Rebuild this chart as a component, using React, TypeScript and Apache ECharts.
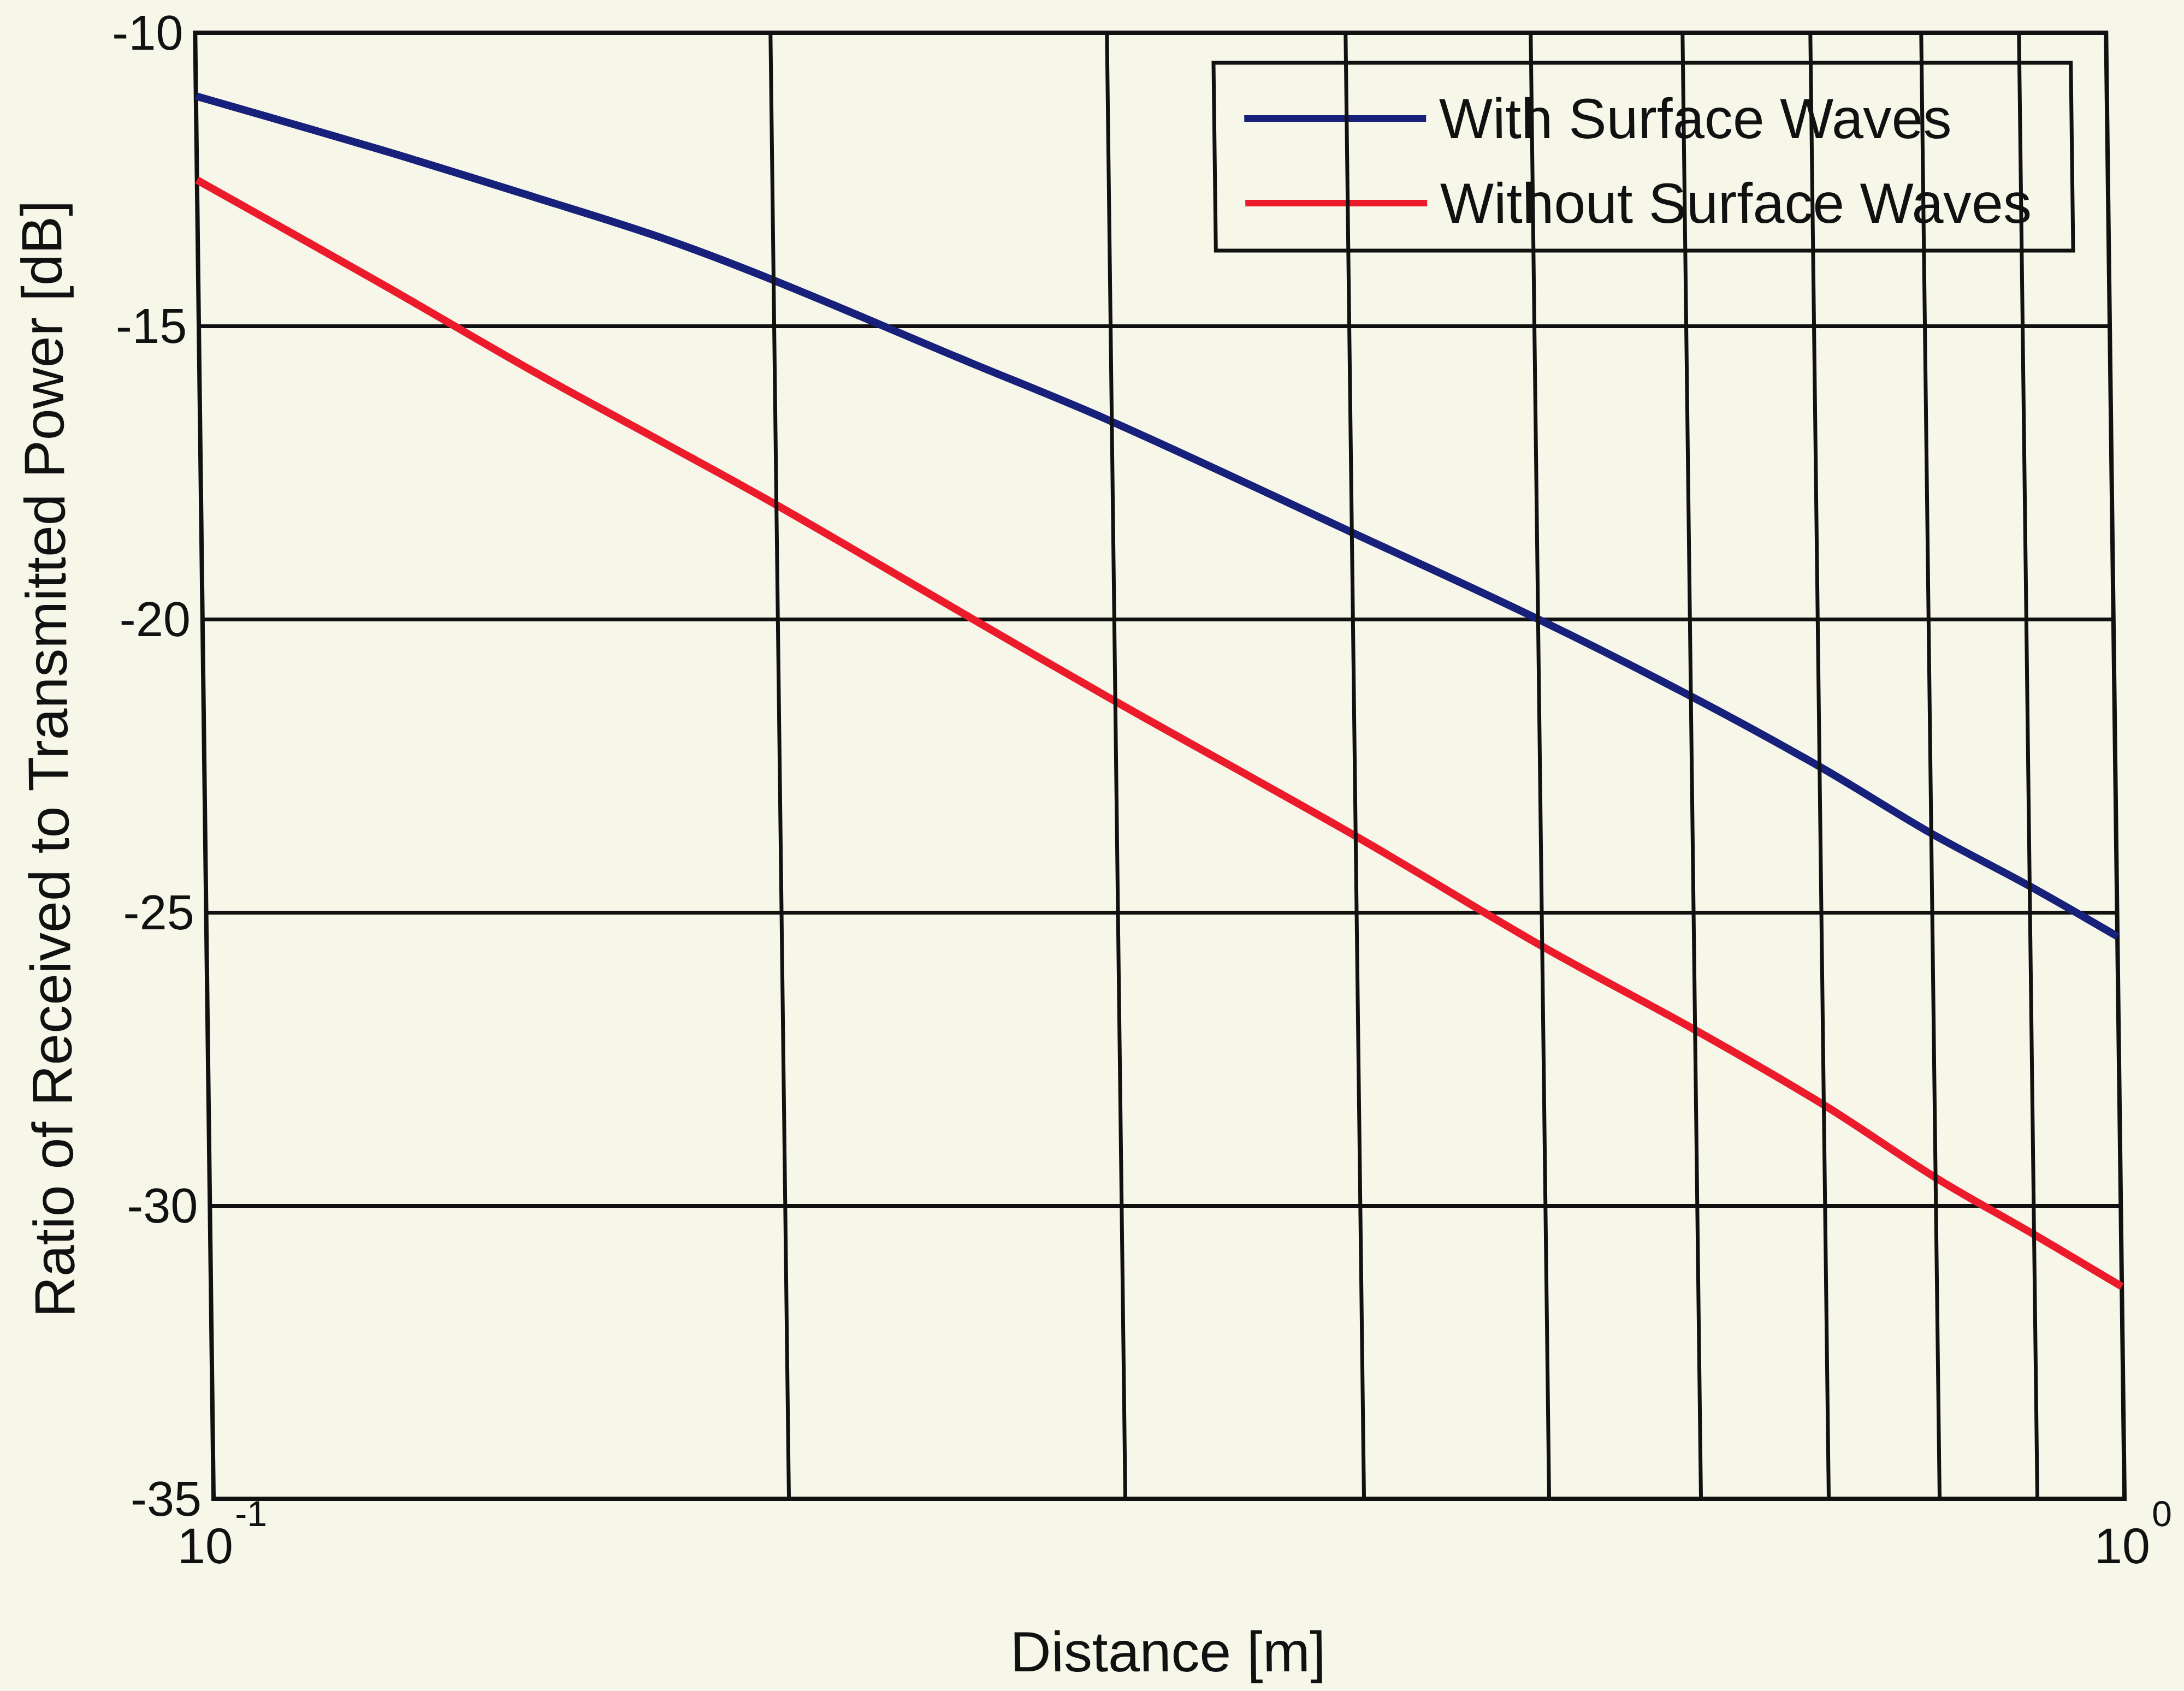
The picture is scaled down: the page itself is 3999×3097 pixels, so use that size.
import React, { useEffect, useRef } from 'react';
import * as echarts from 'echarts';

// Distance samples [m] and received/transmitted power ratio [dB]
const distances = [0.1, 0.125, 0.15, 0.175, 0.2, 0.25, 0.3, 0.4, 0.5, 0.6, 0.7, 0.8, 0.9, 1.0];
const withSurfaceWaves = [-11.08, -12.0, -12.8, -13.5, -14.22, -15.55, -16.63, -18.52, -20.0, -21.31, -22.51, -23.65, -24.55, -25.41];
const withoutSurfaceWaves = [-12.51, -14.3, -15.8, -17.0, -18.05, -19.9, -21.4, -23.7, -25.58, -27.0, -28.28, -29.52, -30.49, -31.38];

// Decade sub-divisions drawn as vertical grid lines
const minorGridDistances = [0.2, 0.3, 0.4, 0.5, 0.6, 0.7, 0.8, 0.9];

const seriesNames = ['With Surface Waves', 'Without Surface Waves'];
const xTitle = 'Distance [m]';
const yTitle = 'Ratio of Received to Transmitted Power [dB]';
const yMin = -35;
const yMax = -10;
const yStep = 5;

const PAGE = '#f6f6e9';
const INK = '#111111';
const BLUE = '#17207a';
const RED = '#ec1b2c';
const FONT = '"Liberation Sans", Arial, Helvetica, sans-serif';

export default function App() {
  const ref = useRef<HTMLDivElement>(null);

  useEffect(() => {
    if (!ref.current) return;
    const chart = echarts.init(ref.current, null, { renderer: 'svg' });

    const toPairs = (ys: number[]) => distances.map((d, i) => [d, ys[i]]);

    const option = {
      animation: false,
      backgroundColor: 'transparent',
      textStyle: { fontFamily: FONT, color: INK },
      grid: {
        left: 376,
        right: 124,
        top: 60,
        bottom: 352,
        show: true,
        borderColor: INK,
        borderWidth: 8,
        backgroundColor: 'transparent',
        containLabel: false,
        outerBoundsMode: 'none',
      },
      xAxis: {
        type: 'log',
        logBase: 10,
        min: 0.1,
        max: 1,
        axisLine: { show: false },
        axisTick: { show: false },
        splitLine: { show: false },
        axisLabel: {
          margin: 32,
          padding: [0, 0, 0, 30],
          formatter: (v: number) => `{b|10}{s|${Math.round(Math.log10(v))}}`,
          rich: {
            b: { fontSize: 92, fontFamily: FONT, color: INK, verticalAlign: 'bottom', lineHeight: 100 },
            s: { fontSize: 66, fontFamily: FONT, color: INK, verticalAlign: 'bottom', lineHeight: 66, padding: [0, 0, 72, 4] },
          },
        },
      },
      yAxis: {
        type: 'value',
        min: yMin,
        max: yMax,
        interval: yStep,
        axisLine: { show: false },
        axisTick: { show: false },
        splitLine: { show: true, lineStyle: { color: INK, width: 7 } },
        axisLabel: { fontSize: 90, fontFamily: FONT, color: INK, margin: 22 },
      },
      legend: {
        orient: 'vertical',
        left: 2240,
        top: 115,
        data: seriesNames,
        selectedMode: false,
        icon: 'rect',
        itemWidth: 333,
        itemHeight: 12,
        itemGap: 39,
        padding: [44, 75, 29, 55],
        backgroundColor: PAGE,
        borderColor: INK,
        borderWidth: 7,
        borderRadius: 0,
        textStyle: { fontSize: 104, lineHeight: 104, fontFamily: FONT, color: INK, padding: [12, 0, 0, 19] },
      },
      graphic: [
        {
          type: 'text',
          x: 90,
          y: 1390,
          rotation: Math.PI / 2,
          style: { text: yTitle, fontSize: 104, fontFamily: FONT, fill: INK, align: 'center', verticalAlign: 'middle' },
        },
        {
          type: 'text',
          x: 2120,
          y: 3077,
          style: { text: xTitle, fontSize: 104, fontFamily: FONT, fill: INK, align: 'center', verticalAlign: 'bottom' },
        },
      ],
      series: [
        {
          name: 'decade grid',
          type: 'line',
          data: [],
          z: 1,
          silent: true,
          markLine: {
            silent: true,
            symbol: ['none', 'none'],
            label: { show: false },
            lineStyle: { color: INK, width: 7, type: 'solid' },
            data: minorGridDistances.map((d) => ({ xAxis: d })),
          },
        },
        {
          name: seriesNames[0],
          type: 'line',
          data: toPairs(withSurfaceWaves),
          symbol: 'none',
          showSymbol: false,
          smooth: 0.35,
          z: 3,
          lineStyle: { color: BLUE, width: 14 },
          itemStyle: { color: BLUE },
        },
        {
          name: seriesNames[1],
          type: 'line',
          data: toPairs(withoutSurfaceWaves),
          symbol: 'none',
          showSymbol: false,
          smooth: 0.35,
          z: 3,
          lineStyle: { color: RED, width: 14 },
          itemStyle: { color: RED },
        },
      ],
    };

    chart.setOption(option as any);
    return () => chart.dispose();
  }, []);

  return (
    <div style={{ position: 'fixed', left: 0, top: 0, width: 3999, height: 3097, background: PAGE, overflow: 'hidden' }}>
      <div
        ref={ref}
        style={{ width: 3999, height: 3097, transform: 'skewX(0.72deg)', transformOrigin: '50% 50%' }}
      />
    </div>
  );
}
